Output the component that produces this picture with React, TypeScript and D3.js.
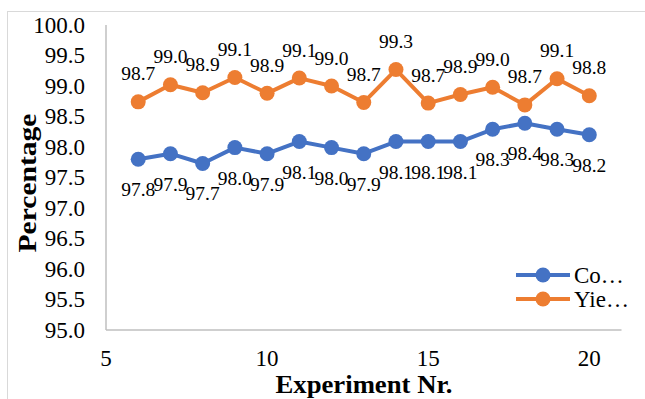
import React from "react";
import * as d3 from "d3";

const experiments = [6, 7, 8, 9, 10, 11, 12, 13, 14, 15, 16, 17, 18, 19, 20];
const conversion = [97.8, 97.89, 97.73, 97.99, 97.89, 98.09, 97.99, 97.89, 98.09, 98.09, 98.09, 98.29, 98.39, 98.29, 98.2];
const yieldVals = [98.74, 99.02, 98.89, 99.14, 98.88, 99.13, 99.0, 98.73, 99.27, 98.72, 98.86, 98.98, 98.69, 99.12, 98.84];
const xTicks = [5, 10, 15, 20];
const yTicks = [95, 95.5, 96, 96.5, 97, 97.5, 98, 98.5, 99, 99.5, 100];
const seriesNames = ["Co…", "Yie…"];

const W = 645;
const H = 399;
const FONT = "'Times New Roman', 'Liberation Serif', serif";
const BLUE = "#4472C4";
const ORANGE = "#ED7D31";
const ts = { fontFamily: FONT } as React.CSSProperties;

export default function App() {
  const x = d3.scaleLinear().domain([5, 21]).range([106, 621.5]);
  const y = d3.scaleLinear().domain([95, 100]).range([330, 25]);
  const line = d3
    .line<number>()
    .x((_, i) => x(experiments[i]))
    .y((d) => y(d));

  const series = [
    { name: seriesNames[0], values: conversion, color: BLUE, labelDy: 37 },
    { name: seriesNames[1], values: yieldVals, color: ORANGE, labelDy: -21.5 },
  ];

  return (
    <svg
      width={W}
      height={H}
      style={{ position: "absolute", left: 0, top: 0, background: "#fff", fontFamily: FONT }}
    >
      <rect x={0} y={0} width={W} height={H} fill="#fff" />
      <rect x={7.5} y={11.5} width={W + 10} height={H + 10} fill="none" stroke="#D9D9D9" strokeWidth={1} />
      <line x1={106} x2={106} y1={y(100)} y2={y(95)} stroke="#BFBFBF" strokeWidth={1.5} />
      <line x1={106} x2={621.5} y1={y(95)} y2={y(95)} stroke="#BFBFBF" strokeWidth={1.5} />
      {yTicks.map((t) => (
        <text key={t} x={85} y={y(t) + 7.8} textAnchor="end" fontSize={23} fill="#000" style={ts}>
          {t.toFixed(1)}
        </text>
      ))}
      {xTicks.map((t) => (
        <text key={t} x={x(t)} y={366} textAnchor="middle" fontSize={23} fill="#000" style={ts}>
          {t}
        </text>
      ))}
      <text
        x={364}
        y={393}
        textAnchor="middle"
        fontSize={26}
        fontWeight="bold"
        textLength={177}
        lengthAdjust="spacingAndGlyphs"
        style={ts}
      >
        Experiment Nr.
      </text>
      <text
        transform={`translate(36,${183}) rotate(-90)`}
        textAnchor="middle"
        fontSize={26}
        fontWeight="bold"
        textLength={139}
        lengthAdjust="spacingAndGlyphs"
        style={ts}
      >
        Percentage
      </text>
      {series.map((s) => (
        <g key={s.name}>
          <path d={line(s.values) || ""} fill="none" stroke={s.color} strokeWidth={4} strokeLinejoin="round" />
          {s.values.map((v, i) => (
            <circle key={i} cx={x(experiments[i])} cy={y(v)} r={7.5} fill={s.color} />
          ))}
          {s.values.map((v, i) => (
            <text
              key={"l" + i}
              x={x(experiments[i])}
              y={y(v) + s.labelDy}
              textAnchor="middle"
              fontSize={19.5}
              fill="#000"
              style={ts}
            >
              {v.toFixed(1)}
            </text>
          ))}
        </g>
      ))}
      {series.map((s, i) => {
        const ly = 275 + i * 24;
        return (
          <g key={"lg" + i}>
            <line x1={516} x2={570} y1={ly} y2={ly} stroke={s.color} strokeWidth={4} />
            <circle cx={543} cy={ly} r={7.5} fill={s.color} />
            <text x={574} y={ly + 7.8} fontSize={23} fill="#000" style={ts}>
              {s.name}
            </text>
          </g>
        );
      })}
    </svg>
  );
}
